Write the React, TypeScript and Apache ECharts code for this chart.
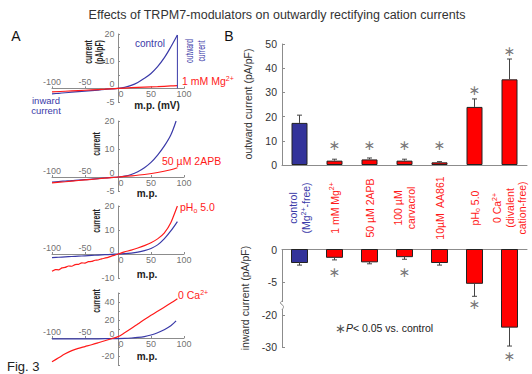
import React, { useEffect, useRef } from "react";
import * as echarts from "echarts";

// ---------- Panel A: I–V relations [membrane potential (mV), current (pA/pF)]
const ivControlMg = [[-100,-2.0],[-90,-1.8],[-80,-1.6],[-70,-1.4],[-60,-1.2],[-50,-1.0],[-40,-0.8],[-30,-0.6],[-20,-0.4],[-10,-0.2],[0,0],[10,0.4],[20,1.1],[30,2.2],[40,3.7],[50,5.5],[60,8.0],[70,11.2],[80,15.2],[90,19.6]];
const ivMg = [[-100,-1.3],[-80,-1.05],[-60,-0.8],[-40,-0.55],[-20,-0.3],[0,0],[20,0.25],[40,0.45],[60,0.65],[80,0.9],[90,1.0]];
const ivControl2APB = [[-100,-1.8],[-90,-1.6],[-80,-1.45],[-70,-1.3],[-60,-1.1],[-50,-0.95],[-40,-0.75],[-30,-0.55],[-20,-0.35],[-10,-0.15],[0,0],[10,0.3],[20,0.9],[30,1.9],[40,3.3],[50,5.2],[60,7.8],[70,11.0],[80,15.0],[88,20.0]];
const iv2APB = [[-100,-2.1],[-80,-1.7],[-60,-1.25],[-40,-0.85],[-20,-0.4],[0,0],[20,0.4],[40,0.9],[60,1.6],[80,2.6],[90,3.3]];
const ivControlPH = [[-100,-1.5],[-90,-1.35],[-80,-1.2],[-70,-1.05],[-60,-0.9],[-50,-0.75],[-40,-0.6],[-30,-0.45],[-20,-0.3],[-10,-0.15],[0,0],[10,0.15],[20,0.4],[30,0.8],[40,1.4],[50,2.3],[60,3.8],[70,6.3],[80,9.6],[90,13.5]];
const ivPH = [[-100,-7.2],[-95,-6.5],[-90,-6.6],[-85,-5.8],[-80,-5.6],[-75,-5.0],[-70,-5.1],[-65,-4.4],[-60,-4.3],[-55,-3.7],[-50,-3.8],[-45,-3.2],[-40,-3.1],[-35,-2.6],[-30,-2.5],[-25,-2.0],[-20,-1.7],[-15,-1.4],[-10,-0.9],[-5,-0.5],[0,0],[10,0.9],[20,1.6],[30,2.5],[40,3.5],[50,4.7],[60,6.3],[70,8.7],[80,13.0],[90,20.0]];
const ivControlCa = [[-100,-1.0],[-80,-1.0],[-60,-0.9],[-40,-0.9],[-20,-0.8],[0,-0.6],[10,-0.4],[20,0],[30,0.6],[40,1.6],[50,3.3],[60,5.8],[70,9.2],[80,13.6],[88,19.0]];
const ivCa = [[-100,-26.5],[-90,-22],[-80,-17.5],[-70,-14],[-60,-11.5],[-50,-9.5],[-40,-7.5],[-30,-5.3],[-20,-3],[-10,-0.8],[0,1.5],[10,5.8],[20,10.5],[30,15.5],[40,20.5],[50,25.3],[60,29.8],[70,34.2],[80,38.8],[90,43.5]];

const mpTicks = [-100, -50, 0, 50, 100];
const currentTicks1 = [-5, 0, 10, 20];
const currentTicks2 = [-5, 0, 10, 20];
const currentTicks3 = [-10, 0, 10, 20];
const currentTicks4 = [-20, 0, 20, 40];
const inwardRefMv = -137; // left end of the dashed "inward current" guides

// ---------- Panel B: mean ± SEM
const conditions = ["control (Mg2+-free)", "1 mM Mg2+", "50 µM 2APB", "100 µM carvacrol", "10µM AA861", "pHo 5.0", "0 Ca2+ (divalent cation-free)"];
const conditionLabels = [
  "control\n(Mg{supB|2+}-free)",
  "1 mM Mg{supR|2+}",
  "50 µM 2APB",
  "100 µM\ncarvacrol",
  "10µM  AA861",
  "pH{subR|o} 5.0",
  "0 Ca{supR|2+}\n(divalent\ncation-free)",
];
const outwardMean = [17.4, 1.8, 2.3, 1.8, 1.1, 24.0, 35.4];
const outwardSem = [3.2, 0.6, 0.6, 0.6, 0.3, 3.3, 8.4];
const outwardStar = [null, 8.3, 8.3, 8.3, 8.3, 31, 47];
const inwardMean = [-2.0, -1.2, -1.9, -1.1, -2.0, -5.2, -23.8];
const inwardSem = [0.4, 0.4, 0.3, 0.4, 0.4, 2.0, 5.9];
const inwardStar = [null, -3.5, null, -3.5, null, -8.4, -32.8];
const outwardTicks = [0, 10, 20, 30, 40, 50];
const inwardTicksUpper = [0, -5];
const inwardTicksLower = [-20, -30];

// ---------- styles
const FONT = '"Liberation Sans", Arial, Helvetica, sans-serif';
const BLUE = "#3a3aa8";
const NAVY = "#33339a";
const RED = "#ff1a1a";
const BAR_RED = "#ff0000";
const AX = "#8c8c8c";
const LBL = "#4a4a4a";
const CAT_COLORS = [NAVY, BAR_RED, BAR_RED, BAR_RED, BAR_RED, BAR_RED, BAR_RED];
const LABEL_COLORS = [BLUE, RED, RED, RED, RED, RED, RED];
const BAR_W = 16;

function errRender(params: any, api: any) {
  const i = api.value(0), m = api.value(1), e = api.value(2);
  const end = m >= 0 ? m + e : m - e;
  const p0 = api.coord([i, m]);
  const p1 = api.coord([i, end]);
  const cs = params.coordSys;
  const inside = (y: number) => y >= cs.y - 0.5 && y <= cs.y + cs.height + 0.5;
  if (!inside(p0[1]) && !inside(p1[1])) return { type: "group", children: [] };
  const st = { stroke: "#444", lineWidth: 1 };
  return {
    type: "group",
    children: [
      { type: "line", shape: { x1: p0[0], y1: p0[1], x2: p1[0], y2: p1[1] }, style: st },
      { type: "line", shape: { x1: p1[0] - 2.5, y1: p1[1], x2: p1[0] + 2.5, y2: p1[1] }, style: st },
    ],
  };
}

function barRender(params: any, api: any) {
  const i = api.value(0), v = api.value(1);
  const cs = params.coordSys;
  const p0 = api.coord([i, 0]);
  const p1 = api.coord([i, v]);
  const x = p0[0] - BAR_W / 2;
  const yA = Math.min(p0[1], p1[1]);
  const yB = Math.max(p0[1], p1[1]);
  const clipTop = yA < cs.y - 0.5;
  const clipBot = yB > cs.y + cs.height + 0.5;
  const top = clipTop ? cs.y - 1 : yA;
  const bot = clipBot ? cs.y + cs.height + 1 : yB;
  if (bot <= top || yB < cs.y || yA > cs.y + cs.height) return { type: "group", children: [] };
  const st = { stroke: "#222", lineWidth: 1 };
  const children: any[] = [
    { type: "rect", shape: { x, y: top, width: BAR_W, height: bot - top }, style: { fill: CAT_COLORS[i] } },
    { type: "line", shape: { x1: x, y1: top, x2: x, y2: bot }, style: st },
    { type: "line", shape: { x1: x + BAR_W, y1: top, x2: x + BAR_W, y2: bot }, style: st },
  ];
  if (!clipTop) children.push({ type: "line", shape: { x1: x, y1: yA, x2: x + BAR_W, y2: yA }, style: st });
  if (!clipBot) children.push({ type: "line", shape: { x1: x, y1: yB, x2: x + BAR_W, y2: yB }, style: st });
  return { type: "group", children };
}

function txt(text: string, x: number, y: number, o: any = {}) {
  return {
    type: "text",
    x,
    y,
    rotation: o.rot || 0,
    scaleX: o.sx || 1,
    z: 50,
    silent: true,
    style: {
      text,
      fontSize: o.size || 10,
      fontFamily: FONT,
      fontWeight: o.bold ? "bold" : "normal",
      fontStyle: "normal",
      fill: o.color || "#222",
      align: o.align || "center",
      verticalAlign: "middle",
      lineHeight: o.lh,
      rich: o.rich,
    },
  };
}

function buildOption() {
  const aPanels = [
    { top: 34, height: 68, min: -5, max: 20, interval: 5, ticks: currentTicks1, curves: [[ivControlMg, BLUE], [ivMg, RED]] },
    { top: 121, height: 70, min: -5, max: 20, interval: 5, ticks: currentTicks2, curves: [[ivControl2APB, BLUE], [iv2APB, RED]] },
    { top: 206, height: 72, min: -10, max: 20, interval: 10, ticks: currentTicks3, curves: [[ivControlPH, BLUE], [ivPH, RED]] },
    { top: 293, height: 72, min: -30, max: 50, interval: 10, ticks: currentTicks4, curves: [[ivControlCa, BLUE], [ivCa, RED]] },
  ];

  const grid: any[] = [];
  const xAxis: any[] = [];
  const yAxis: any[] = [];
  const series: any[] = [];
  const tickLbl = { show: true, fontSize: 9, color: LBL, fontFamily: FONT, distance: 1 };
  const ghost = { symbolSize: 1, clip: false, silent: true, itemStyle: { color: "rgba(0,0,0,0)" }, z: 5 };

  aPanels.forEach((p, i) => {
    grid.push({ left: 52, width: 132, top: p.top, height: p.height, outerBoundsMode: "none" });
    xAxis.push({
      type: "value", gridIndex: i, min: -100, max: 100, interval: 50, position: "bottom",
      axisLine: { onZero: true, lineStyle: { color: AX, width: 1 } },
      axisTick: { show: true, inside: true, length: 2, lineStyle: { color: AX } },
      splitLine: { show: false }, axisLabel: { show: false },
    });
    yAxis.push({
      type: "value", gridIndex: i, min: p.min, max: p.max, interval: p.interval, position: "left",
      axisLine: { onZero: true, lineStyle: { color: AX, width: 1 } },
      axisTick: { show: true, inside: true, length: 2, lineStyle: { color: AX } },
      splitLine: { show: false }, axisLabel: { show: false },
    });
    p.curves.forEach(([data, color]: any) => {
      series.push({
        type: "line", xAxisIndex: i, yAxisIndex: i, data, showSymbol: false, symbol: "none",
        smooth: data === ivPH ? 0.15 : 0.35, silent: true,
        lineStyle: { color, width: 1.2 }, itemStyle: { color },
      });
    });
    // tick labels placed at the axes' crossing through the axes' own scales
    series.push({
      type: "scatter", xAxisIndex: i, yAxisIndex: i, ...ghost,
      data: mpTicks.map((v) => ({ value: [v, 0], label: { position: v < 0 ? "top" : "bottom", offset: v === 0 ? [3, 0] : [0, 0] } })),
      label: { ...tickLbl, formatter: (d: any) => String(d.value[0]) },
    });
    series.push({
      type: "scatter", xAxisIndex: i, yAxisIndex: i, ...ghost,
      data: p.ticks.map((v) => ({ value: [0, v], label: { offset: v === 0 ? [0, -4] : [0, 0] } })),
      label: { ...tickLbl, position: "left", distance: 3, formatter: (d: any) => String(d.value[1]) },
    });
  });

  // annotations of the first I–V plot, in data coordinates
  const last = ivControlMg[ivControlMg.length - 1];
  const first = ivControlMg[0];
  series.push({
    type: "line", xAxisIndex: 0, yAxisIndex: 0, data: [[last[0], 0], last], showSymbol: false, symbol: "none",
    silent: true, lineStyle: { color: BLUE, width: 1 },
  });
  [0, first[1]].forEach((lvl) => {
    series.push({
      type: "line", xAxisIndex: 0, yAxisIndex: 0, data: [[inwardRefMv, lvl], [first[0], lvl]], showSymbol: false,
      symbol: "none", clip: false, silent: true, lineStyle: { color: "#333", width: 1, type: [3, 2] },
    });
  });

  // ---------- Panel B grids: 4 outward, 5 inward (upper segment), 6 inward (lower segment)
  grid.push({ left: 282, width: 245, top: 44, height: 121, outerBoundsMode: "none" });
  grid.push({ left: 282, width: 245, top: 249.5, height: 52, outerBoundsMode: "none" });
  grid.push({ left: 282, width: 245, top: 301.5, height: 45.5, outerBoundsMode: "none" });

  const catRich = {
    supB: { fontSize: 7, verticalAlign: "top", lineHeight: 12.5, color: BLUE, fontFamily: FONT },
    supR: { fontSize: 7, verticalAlign: "top", lineHeight: 12.5, color: RED, fontFamily: FONT },
    subR: { fontSize: 7, verticalAlign: "bottom", lineHeight: 12.5, color: RED, fontFamily: FONT },
  };

  xAxis.push({
    type: "category", gridIndex: 4, data: conditions,
    axisLine: { lineStyle: { color: AX } }, axisTick: { show: false },
    axisLabel: {
      interval: 0, rotate: 90, align: "center", verticalAlign: "middle", margin: 43,
      fontSize: 10.5, fontFamily: FONT, lineHeight: 12.5,
      color: (_v: any, i: number) => LABEL_COLORS[i],
      formatter: (_v: any, i: number) => conditionLabels[i],
      rich: catRich,
    },
  });
  xAxis.push({
    type: "category", gridIndex: 5, data: conditions, position: "top",
    axisLine: { onZero: false, lineStyle: { color: AX } }, axisTick: { show: false }, axisLabel: { show: false },
  });
  xAxis.push({ type: "category", gridIndex: 6, data: conditions, show: false });

  const bLbl = { fontSize: 10.5, color: "#333", fontFamily: FONT, margin: 5 };
  yAxis.push({
    type: "value", gridIndex: 4, min: 0, max: 50, interval: 10,
    axisLine: { show: true, lineStyle: { color: AX } },
    axisTick: { show: true, inside: true, length: 3, lineStyle: { color: AX } },
    splitLine: { show: false },
    axisLabel: { ...bLbl, formatter: (v: number) => (outwardTicks.includes(v) ? String(v) : "") },
  });
  yAxis.push({
    type: "value", gridIndex: 5, min: -8, max: 0, interval: 1,
    axisLine: { show: true, lineStyle: { color: AX } },
    axisTick: { show: true, inside: true, length: 3, lineStyle: { color: AX }, customValues: inwardTicksUpper },
    splitLine: { show: false },
    axisLabel: { ...bLbl, customValues: inwardTicksUpper, formatter: (v: number) => (inwardTicksUpper.includes(v) ? String(v) : "") },
  });
  yAxis.push({
    type: "value", gridIndex: 6, min: -30, max: -15.8, interval: 1,
    axisLine: { show: true, lineStyle: { color: AX } },
    axisTick: { show: true, inside: true, length: 3, lineStyle: { color: AX }, customValues: inwardTicksLower },
    splitLine: { show: false },
    axisLabel: { ...bLbl, customValues: inwardTicksLower, formatter: (v: number) => (inwardTicksLower.includes(v) ? String(v) : "") },
  });

  const starSeries = (xi: number, data: number[][]) => ({
    type: "scatter", xAxisIndex: xi, yAxisIndex: xi, data, ...ghost, z: 6,
    label: { show: true, position: "inside", formatter: "∗", fontSize: 14, color: "#555", fontFamily: "DejaVu Sans" },
  });

  // outward
  series.push({
    type: "bar", xAxisIndex: 4, yAxisIndex: 4, barWidth: BAR_W, silent: true,
    data: outwardMean.map((v, i) => ({ value: v, itemStyle: { color: CAT_COLORS[i], borderColor: "#222", borderWidth: 1 } })),
  });
  series.push({
    type: "custom", xAxisIndex: 4, yAxisIndex: 4, renderItem: errRender, silent: true, z: 4,
    encode: { x: 0, y: 1 }, data: outwardMean.map((v, i) => [i, v, outwardSem[i]]),
  });
  series.push(starSeries(4, outwardStar.map((v, i) => [i, v]).filter((d) => d[1] !== null) as number[][]));

  // inward, two segments of a broken axis
  [5, 6].forEach((xi) => {
    series.push({
      type: "custom", xAxisIndex: xi, yAxisIndex: xi, renderItem: barRender, silent: true, z: 3,
      encode: { x: 0, y: 1 }, data: inwardMean.map((v, i) => [i, v]),
    });
    series.push({
      type: "custom", xAxisIndex: xi, yAxisIndex: xi, renderItem: errRender, silent: true, z: 4,
      encode: { x: 0, y: 1 }, data: inwardMean.map((v, i) => [i, v, inwardSem[i]]),
    });
  });
  const stars = inwardStar.map((v, i) => [i, v]).filter((d) => d[1] !== null) as number[][];
  series.push(starSeries(5, stars.filter((d) => d[1] > -16)));
  series.push(starSeries(6, stars.filter((d) => d[1] <= -16)));

  const sup = (c: string) => ({ fontSize: 7, verticalAlign: "top", lineHeight: 13, fill: c, fontFamily: FONT });
  const sub = (c: string) => ({ fontSize: 7, verticalAlign: "bottom", lineHeight: 13, fill: c, fontFamily: FONT });

  const graphic: any[] = [
    txt("Effects of TRPM7-modulators on outwardly rectifying cation currents", 277, 15, { size: 12.5, color: "#333" }),
    txt("A", 16, 36, { size: 14, color: "#111" }),
    txt("B", 229, 36, { size: 14, color: "#111" }),
    // plot 1
    txt("control", 150, 43, { size: 10, color: BLUE }),
    txt("current", 88, 52, { size: 10, bold: true, rot: Math.PI / 2, sx: 0.68 }),
    txt("(pA/pF)", 99, 52, { size: 10, bold: true, rot: Math.PI / 2, sx: 0.68 }),
    txt("outward", 189, 51, { size: 10, color: BLUE, rot: Math.PI / 2, sx: 0.68 }),
    txt("current", 201, 51, { size: 10, color: BLUE, rot: Math.PI / 2, sx: 0.68 }),
    txt("1 mM Mg{s|2+}", 182, 81, { size: 10.5, color: RED, align: "left", rich: { s: sup(RED) } }),
    txt("m.p. (mV)", 157, 105, { size: 10, bold: true }),
    txt("inward\ncurrent", 46, 105, { size: 9.5, color: BLUE, lh: 10 }),
    // plot 2
    txt("50 µM 2APB", 162, 161, { size: 10.5, color: RED, align: "left" }),
    txt("current", 96, 144, { size: 10, bold: true, rot: Math.PI / 2, sx: 0.68 }),
    txt("m.p.", 147, 193, { size: 10, bold: true }),
    // plot 3
    txt("pH{o|o} 5.0", 180, 207, { size: 10.5, color: RED, align: "left", rich: { o: sub(RED) } }),
    txt("current", 96, 221, { size: 10, bold: true, rot: Math.PI / 2, sx: 0.68 }),
    txt("m.p.", 147, 274, { size: 10, bold: true }),
    // plot 4
    txt("0 Ca{s|2+}", 178, 295, { size: 10.5, color: RED, align: "left", rich: { s: sup(RED) } }),
    txt("current", 96, 301, { size: 10, bold: true, rot: Math.PI / 2, sx: 0.68 }),
    txt("m.p.", 147, 356, { size: 10, bold: true }),
    txt("Fig. 3", 7, 366, { size: 13, align: "left", color: "#222" }),
    // panel B
    txt("outward current (pA/pF)", 248, 104, { size: 10.5, color: "#333", rot: Math.PI / 2 }),
    txt("inward current (pA/pF)", 245, 298, { size: 10.5, color: "#333", rot: Math.PI / 2 }),
    txt("{st|∗}{it|P}< 0.05 vs. control", 335, 328, {
      size: 10.5, color: "#222", align: "left",
      rich: {
        st: { fontSize: 13, fill: "#555", fontFamily: "DejaVu Sans" },
        it: { fontSize: 10.5, fontStyle: "italic", fill: "#222", fontFamily: FONT },
      },
    }),
    // axis break mark
    { type: "rect", z: 60, silent: true, shape: { x: 279, y: 302, width: 6, height: 7 }, style: { fill: "#fff" } },
    {
      type: "polyline", z: 61, silent: true,
      shape: { points: [[282, 301], [280.5, 303], [283.5, 306.5], [282, 309.5]], smooth: 0.5 },
      style: { stroke: AX, lineWidth: 1, fill: "none" },
    },
  ];

  return {
    animation: false,
    backgroundColor: "#fff",
    textStyle: { fontFamily: FONT },
    grid,
    xAxis,
    yAxis,
    series,
    graphic,
  };
}

export default function App() {
  const ref = useRef<HTMLDivElement>(null);
  useEffect(() => {
    if (!ref.current) return;
    const chart = echarts.init(ref.current, null, { renderer: "svg" });
    chart.setOption(buildOption() as any);
    return () => chart.dispose();
  }, []);
  return <div ref={ref} style={{ position: "fixed", left: 0, top: 0, width: 532, height: 374 }} />;
}
